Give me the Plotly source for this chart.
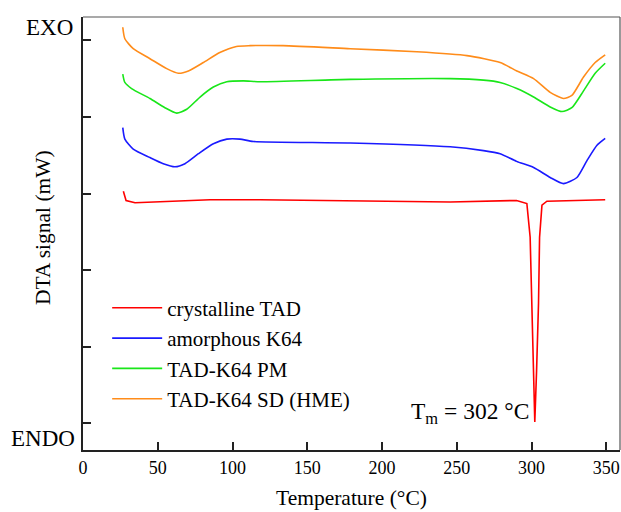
import plotly.graph_objects as go

# Temperature (°C) and DTA signal (arbitrary offset units, no tick labels)
t_tad = [27.0, 28.8, 34.8, 47.0, 62.7, 85.0, 118.4, 178.7, 245.6, 290.0, 296.9, 299.1, 300.3,
         301.3, 302.2, 303.4, 304.7, 305.4, 307.0, 310.3, 334.6, 349.3]
y_tad = [4.03, 3.91, 3.88, 3.89, 3.91, 3.92, 3.92, 3.91, 3.89, 3.91, 3.87, 3.43, 2.57,
         1.69, 1.02, 1.69, 2.57, 3.43, 3.85, 3.90, 3.91, 3.92]

t_k64 = [26.6, 28.0, 33.6, 44.8, 53.7, 61.5, 68.2, 77.2, 87.2, 96.2, 105.0, 113.9, 178.7,
         245.6, 267.9, 279.0, 290.0, 301.4, 312.5, 321.4, 330.4, 337.1, 343.8, 349.3]
y_k64 = [4.86, 4.71, 4.58, 4.47, 4.39, 4.35, 4.39, 4.52, 4.65, 4.71, 4.71, 4.68, 4.66,
         4.61, 4.56, 4.52, 4.42, 4.34, 4.21, 4.13, 4.21, 4.43, 4.63, 4.72]

t_pm = [26.6, 28.0, 32.5, 44.8, 54.8, 62.7, 69.4, 78.3, 87.2, 96.2, 107.3, 118.4, 178.7,
        245.6, 267.9, 279.0, 290.2, 301.4, 312.5, 320.4, 327.0, 334.8, 342.6, 349.3]
y_pm = [5.56, 5.45, 5.37, 5.24, 5.12, 5.05, 5.10, 5.26, 5.39, 5.46, 5.47, 5.46, 5.49,
        5.50, 5.48, 5.45, 5.37, 5.26, 5.13, 5.07, 5.12, 5.34, 5.57, 5.70]

t_sd = [26.6, 28.0, 33.6, 44.8, 56.0, 63.8, 70.5, 80.5, 91.5, 102.6, 111.8, 133.8, 178.7,
        223.3, 256.8, 279.0, 290.2, 301.4, 312.5, 321.4, 327.0, 334.8, 342.6, 349.3]
y_sd = [6.17, 6.02, 5.89, 5.76, 5.63, 5.57, 5.60, 5.71, 5.84, 5.92, 5.93, 5.93, 5.89,
        5.85, 5.80, 5.71, 5.60, 5.50, 5.32, 5.24, 5.28, 5.52, 5.71, 5.81]

names = ["crystalline TAD", "amorphous K64", "TAD-K64 PM", "TAD-K64 SD (HME)"]
x_ticks = [0, 50, 100, 150, 200, 250, 300, 350]
y_ticks = [1, 2, 3, 4, 5, 6]

FONT = "Liberation Serif, Times New Roman, serif"

fig = go.Figure()
fig.add_trace(go.Scatter(x=t_tad, y=y_tad, mode="lines", name=names[0],
                         line=dict(color="#ff0000", width=1.6)))
fig.add_trace(go.Scatter(x=t_k64, y=y_k64, mode="lines", name=names[1],
                         line=dict(color="#1a1aff", width=1.6, shape="spline", smoothing=0.6)))
fig.add_trace(go.Scatter(x=t_pm, y=y_pm, mode="lines", name=names[2],
                         line=dict(color="#19e619", width=1.6, shape="spline", smoothing=0.6)))
fig.add_trace(go.Scatter(x=t_sd, y=y_sd, mode="lines", name=names[3],
                         line=dict(color="#ff8c1a", width=1.6, shape="spline", smoothing=0.6)))

fig.update_layout(
    width=621, height=512,
    margin=dict(l=83, r=1, t=17, b=62, autoexpand=False),
    paper_bgcolor="white", plot_bgcolor="white",
    font=dict(family=FONT, color="black", size=18),
    showlegend=True,
    legend=dict(x=0.045, y=0.375, xanchor="left", yanchor="top",
                bgcolor="rgba(0,0,0,0)", font=dict(family=FONT, size=21),
                itemwidth=50, tracegroupgap=0),
    xaxis=dict(range=[0, 359.2], tickvals=x_ticks, ticktext=[str(v) for v in x_ticks],
               ticks="inside", ticklen=8, tickwidth=2, tickcolor="#222", automargin=False,
               showline=True, linecolor="#222", linewidth=2, showgrid=False, zeroline=False,
               tickfont=dict(family=FONT, size=18)),
    yaxis=dict(range=[0.654, 6.304], tickvals=y_ticks, showticklabels=False, automargin=False,
               ticks="inside", ticklen=8, tickwidth=2, tickcolor="#222",
               showline=True, linecolor="#222", linewidth=2, showgrid=False, zeroline=False),
    shapes=[
        dict(type="line", xref="paper", yref="paper", x0=0, x1=1, y0=1, y1=1,
             line=dict(color="#555", width=1.2)),
        dict(type="line", xref="paper", yref="paper", x0=1, x1=1, y0=0, y1=1,
             line=dict(color="#555", width=1.2)),
    ],
    annotations=[
        dict(text="Temperature (°C)", xref="paper", yref="paper", x=0.5, y=-0.111,
             showarrow=False, xanchor="center", yanchor="middle",
             font=dict(family=FONT, size=21.5)),
        dict(text="DTA signal (mW)", xref="paper", yref="paper", x=-0.0745, y=0.515,
             textangle=-90, showarrow=False, font=dict(family=FONT, size=21.5),
             xanchor="center", yanchor="middle"),
        dict(text="EXO", xref="paper", yref="paper", x=-0.0149, y=0.976, showarrow=False,
             xanchor="right", yanchor="middle", font=dict(family=FONT, size=23)),
        dict(text="ENDO", xref="paper", yref="paper", x=-0.011, y=0.0277, showarrow=False,
             xanchor="right", yanchor="middle", font=dict(family=FONT, size=23)),
        dict(text="T<sub>m</sub> = 302 °C", x=302, y=1.02, xref="x", yref="y",
             showarrow=False, xanchor="right", yanchor="bottom", xshift=-3, yshift=-8,
             font=dict(family=FONT, size=23.5)),
    ],
)

# Remove the browser's default page margin so the 621x512 figure fills the window.
fig.write_html("out.html", config={"displayModeBar": False},
               post_script="document.body.style.margin='0';document.body.style.overflow='hidden';")
